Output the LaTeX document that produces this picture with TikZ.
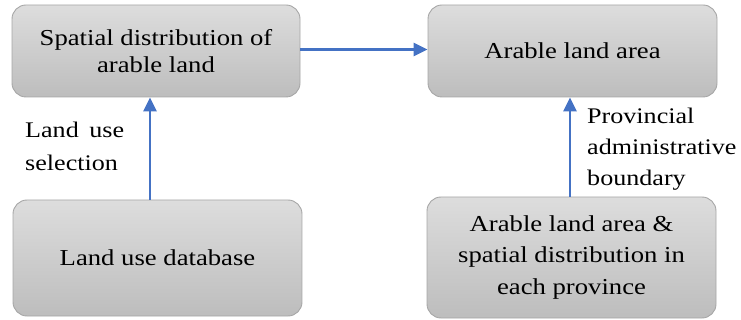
\documentclass[tikz,border=0pt]{standalone}
\usepackage{fontspec}
\setmainfont{Liberation Serif}[FakeStretch=1.17]
\usetikzlibrary{arrows.meta}
\definecolor{boxtop}{HTML}{DDDDDD}
\definecolor{boxbot}{HTML}{BDBDBD}
\definecolor{boxline}{HTML}{A6A6A6}
\definecolor{arrowblue}{HTML}{4472C4}
\tikzset{
  box/.style={draw=boxline, line width=0.9pt, rounded corners=14pt, top color=boxtop, bottom color=boxbot, align=center, font=\fontsize{22.8}{27}\selectfont, inner sep=0pt},
  conn/.style={draw=arrowblue, line width=2.6pt, -{Triangle[length=14pt,width=13pt]}},
  lbl/.style={align=left, font=\fontsize{22.3}{33}\selectfont, inner sep=0pt, anchor=north west}
}
\begin{document}
\begin{tikzpicture}[x=1pt,y=-1pt]
\useasboundingbox (0,0) rectangle (741,320);
\node[box, minimum width=288pt, minimum height=92pt] (sd) at (156,51) {Spatial distribution of\\arable land};
\node[box, minimum width=289pt, minimum height=92pt] (ala) at (572.5,51) {Arable land area};
\node[box, minimum width=289pt, minimum height=116pt] (db) at (157.5,258) {Land use database};
\node[box, minimum width=289pt, minimum height=121pt, font=\fontsize{22.8}{31.5}\selectfont] (prov) at (571.5,257.5) {Arable land area \&\\spatial distribution in\\each province};
\draw[conn] (sd.east |- 0,49.5) -- (ala.west |- 0,49.5);
\draw[conn] (db.north -| 150,0) -- (sd.south -| 150,0);
\draw[conn] (prov.north -| 570,0) -- (ala.south -| 570,0);
\node[lbl] (l1) at (25,122) {\makebox[99pt][s]{Land use}\\selection};
\node[lbl, font=\fontsize{22.3}{31}\selectfont] (l2) at (587,108) {Provincial\\administrative\\boundary};
\end{tikzpicture}
\end{document}
